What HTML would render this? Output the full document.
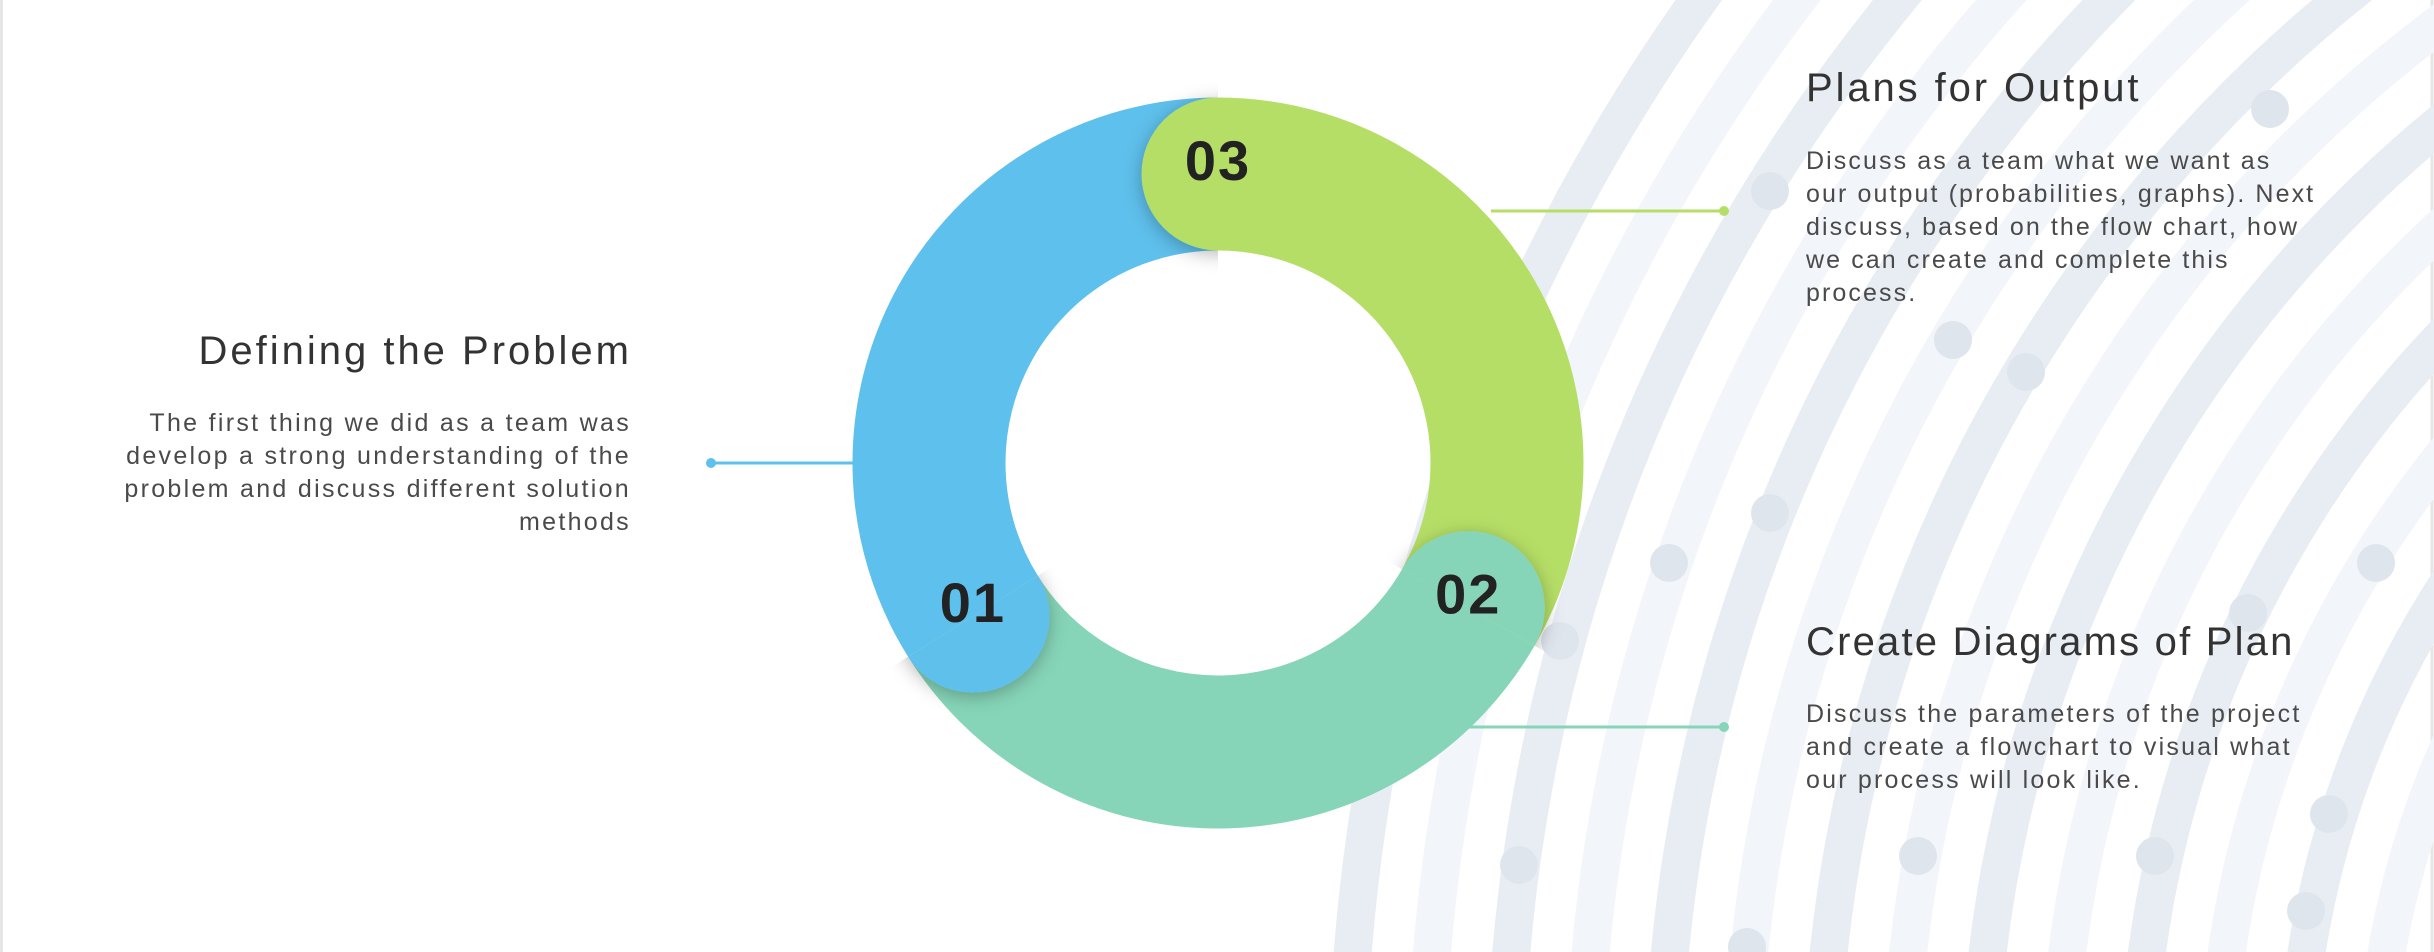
<!DOCTYPE html>
<html><head><meta charset="utf-8"><style>
html,body{margin:0;padding:0;background:#fff;width:2434px;height:952px;overflow:hidden;}
body{position:relative;font-family:"Liberation Sans",sans-serif;}
svg{position:absolute;left:0;top:0;display:block;}
</style></head><body>
<svg id="chart" width="2434" height="952" viewBox="0 0 2434 952">
<defs id="defs">
<filter id="sh" x="-50%" y="-50%" width="200%" height="200%"><feDropShadow dx="0" dy="4" stdDeviation="9" flood-color="#000" flood-opacity="0.28"/></filter>
<clipPath id="frame"><rect x="0" y="0" width="2434" height="952"/></clipPath>
</defs>
<rect x="0" y="0" width="2434" height="952" fill="#fff"/>
<line x1="1.5" y1="0" x2="1.5" y2="952" stroke="#e6e6e6" stroke-width="3"/>
<line x1="2432" y1="0" x2="2432" y2="952" stroke="#e6e6e6" stroke-width="3"/>
<g id="bgArcs" clip-path="url(#frame)"></g>
<g id="donut"></g>
<g>
<line x1="711" y1="463" x2="856" y2="463" stroke="#5ec0ec" stroke-width="3"/>
<circle cx="711" cy="463" r="5" fill="#5ec0ec"/>
<line x1="1491" y1="211" x2="1724" y2="211" stroke="#b5de66" stroke-width="3"/>
<circle cx="1724" cy="211" r="5" fill="#b5de66"/>
<line x1="1460" y1="727" x2="1724" y2="727" stroke="#86d5b8" stroke-width="3"/>
<circle cx="1724" cy="727" r="5" fill="#86d5b8"/>
</g>
<g font-family="Liberation Sans, sans-serif" fill="#333">
<text x="632" y="364" font-size="40" letter-spacing="3" text-anchor="end">Defining the Problem</text>
<g font-size="25" letter-spacing="2.3" text-anchor="end" fill="#4a4a4a">
<text x="631" y="431">The first thing we did as a team was</text>
<text x="631" y="464">develop a strong understanding of the</text>
<text x="631" y="497">problem and discuss different solution</text>
<text x="631" y="530">methods</text>
</g>
<text x="1806" y="101" font-size="40" letter-spacing="2.9">Plans for Output</text>
<g font-size="25" letter-spacing="2.1" fill="#4a4a4a">
<text x="1806" y="169">Discuss as a team what we want as</text>
<text x="1806" y="202">our output (probabilities, graphs). Next</text>
<text x="1806" y="235">discuss, based on the flow chart, how</text>
<text x="1806" y="268">we can create and complete this</text>
<text x="1806" y="301">process.</text>
</g>
<text x="1806" y="655" font-size="40" letter-spacing="2.2">Create Diagrams of Plan</text>
<g font-size="25" letter-spacing="2.2" fill="#4a4a4a">
<text x="1806" y="722">Discuss the parameters of the project</text>
<text x="1806" y="755">and create a flowchart to visual what</text>
<text x="1806" y="788">our process will look like.</text>
</g>
</g>
</svg>
<script>
const stepLabels = ["01", "02", "03"];
const stepStartAngles = [148, 30, -90];
const stepColors = ["#5ec0ec", "#86d5b8", "#b5de66"];
const dotPoints = [[2270,109],[1770,191],[1953,340],[2026,372],[1770,513],[1669,563],[2376,563],[2248,613],[1560,641],[2329,814],[1918,856],[2155,856],[1519,865],[2306,911],[1747,947]];

const NS = "http://www.w3.org/2000/svg";
function mk(tag, attrs, parent){const e=document.createElementNS(NS,tag);for(const k in attrs)e.setAttribute(k,attrs[k]);parent.appendChild(e);return e;}

const bg = document.getElementById('bgArcs');
const bcx = 3243, bcy = 1100;
for (let i = 0; i < 22; i++) {
  const r = 1896 - i * 79;
  const c = mk('circle', {cx:bcx, cy:bcy, r:r, fill:'none', stroke:(i%2===0?'#e8edf4':'#f2f5f9'), 'stroke-width':38}, bg);
  
  
}
dotPoints.forEach(p => {
  const d = mk('circle', {cx:p[0], cy:p[1], r:19, fill:'#dfe5ed'}, bg);
  
  
});

const g = document.getElementById('donut');
const defs = document.getElementById('defs');
const cx = 1218, cy = 463, rMid = 289, thick = 153;
const rad = a => a * Math.PI / 180;
const pt = (a, r) => [cx + r * Math.cos(rad(a)), cy + r * Math.sin(rad(a))];
const n = stepLabels.length;
for (let i = 0; i < n; i++) {
  const a0 = stepStartAngles[i];
  const next = stepStartAngles[(i + n - 1) % n];
  let a1 = next; while (a1 <= a0) a1 += 360;
  const [x0,y0] = pt(a0, rMid), [x1,y1] = pt(a1, rMid);
  const large = (a1 - a0) > 180 ? 1 : 0;
  const p = mk('path', {d:`M${x0},${y0} A${rMid},${rMid} 0 ${large} 1 ${x1},${y1}`, fill:'none', stroke:stepColors[i], 'stroke-width':thick}, g);
  
  
}
for (let i = 0; i < n; i++) {
  const a0 = stepStartAngles[i];
  const [x,y] = pt(a0, rMid);
  const rc = thick / 2;
  // half-plane clip on the backward (counter-clockwise) side
  const tx = -Math.sin(rad(a0)), ty = Math.cos(rad(a0)); // clockwise tangent
  const ux = Math.cos(rad(a0)), uy = Math.sin(rad(a0));
  const L = 300;
  const pts = [
    [x + ux*L, y + uy*L], [x - ux*L, y - uy*L],
    [x - ux*L - tx*L, y - uy*L - ty*L], [x + ux*L - tx*L, y + uy*L - ty*L]
  ].map(q => q.join(',')).join(' ');
  const cp = mk('clipPath', {id:'capclip' + i}, defs);
  mk('polygon', {points: pts}, cp);
  const cg = mk('g', {'clip-path':`url(#capclip${i})`}, g);
  const cap = mk('circle', {cx:x, cy:y, r:rc, fill:stepColors[i], filter:'url(#sh)'}, cg);
  
  
  const t = mk('text', {x:x, y:y + 6, 'font-size':56, 'font-weight':'bold', 'letter-spacing':2, 'text-anchor':'middle', fill:'#222', 'font-family':'Liberation Sans, sans-serif'}, g);
  t.textContent = stepLabels[i];
  
  
}
</script>
</body></html>
